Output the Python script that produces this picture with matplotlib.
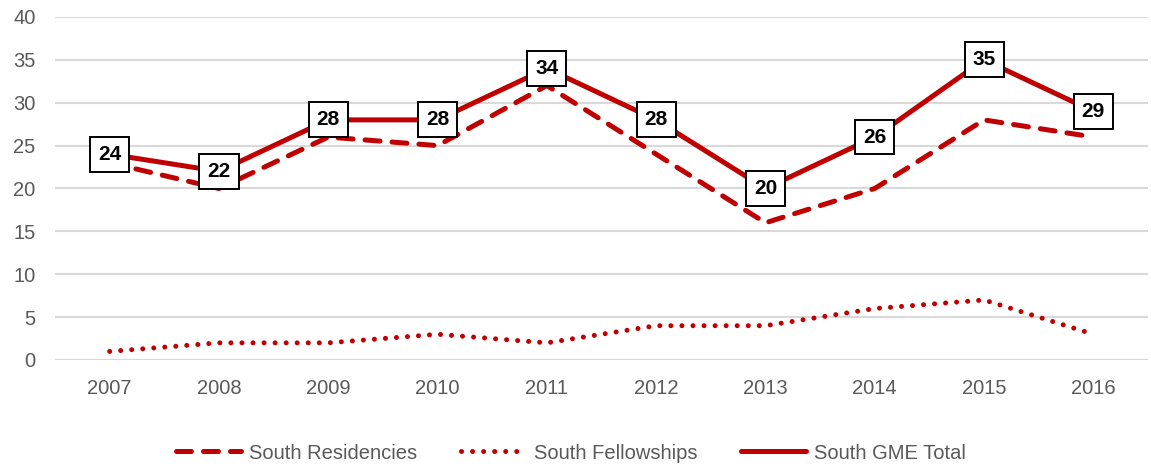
import matplotlib
matplotlib.use("Agg")
from matplotlib import pyplot as plt

years = ["2007", "2008", "2009", "2010", "2011", "2012", "2013", "2014", "2015", "2016"]
residencies = [23, 20, 26, 25, 32, 24, 16, 20, 28, 26]
fellowships = [1, 2, 2, 3, 2, 4, 4, 6, 7, 3]
gme_total = [24, 22, 28, 28, 34, 28, 20, 26, 35, 29]

RED = "#C00000"
GREY_TEXT = "#595959"

plt.rcParams["font.family"] = ["Liberation Sans", "DejaVu Sans"]

fig = plt.figure(figsize=(11.51, 4.68), dpi=100)
ax = fig.add_axes([0.0478, 0.2308, 0.9496, 0.7329])

x = list(range(len(years)))
ax.plot(x, residencies, color=RED, lw=3.6, linestyle=(0, (3.0, 2.4)),
        dash_capstyle="round", label="South Residencies", zorder=3)
ax.plot(x, fellowships, color=RED, lw=3.6, linestyle=(0, (0.01, 2.2)),
        dash_capstyle="round", label="South Fellowships", zorder=3)
ax.plot(x, gme_total, color=RED, lw=3.6, solid_capstyle="round",
        label="South GME Total", zorder=4)

for xi, v in zip(x, gme_total):
    ax.text(xi, v, str(v), ha="center", va="center", fontsize=15, fontweight="bold",
            color="black", zorder=5,
            bbox=dict(boxstyle="square,pad=0.38", fc="white", ec="black", lw=1.4))

ax.set_xlim(-0.5, len(years) - 0.5)
ax.set_ylim(0, 40)
ax.set_yticks(range(0, 41, 5))
ax.set_xticks(x)
ax.set_xticklabels(years)
ax.grid(axis="y", color="#D9D9D9", lw=1.5)
ax.set_axisbelow(True)
for s in ax.spines.values():
    s.set_visible(False)
ax.tick_params(axis="both", length=0, labelsize=14.5, colors=GREY_TEXT)
ax.tick_params(axis="x", pad=14)
ax.tick_params(axis="y", pad=14)

leg = fig.legend(loc="center", bbox_to_anchor=(0.496, 0.032), ncol=3, frameon=False,
                 fontsize=14.5, handlelength=3.2, columnspacing=2.2, handletextpad=0.4)
for t in leg.get_texts():
    t.set_color(GREY_TEXT)

fig.savefig("out.png", dpi=100)
